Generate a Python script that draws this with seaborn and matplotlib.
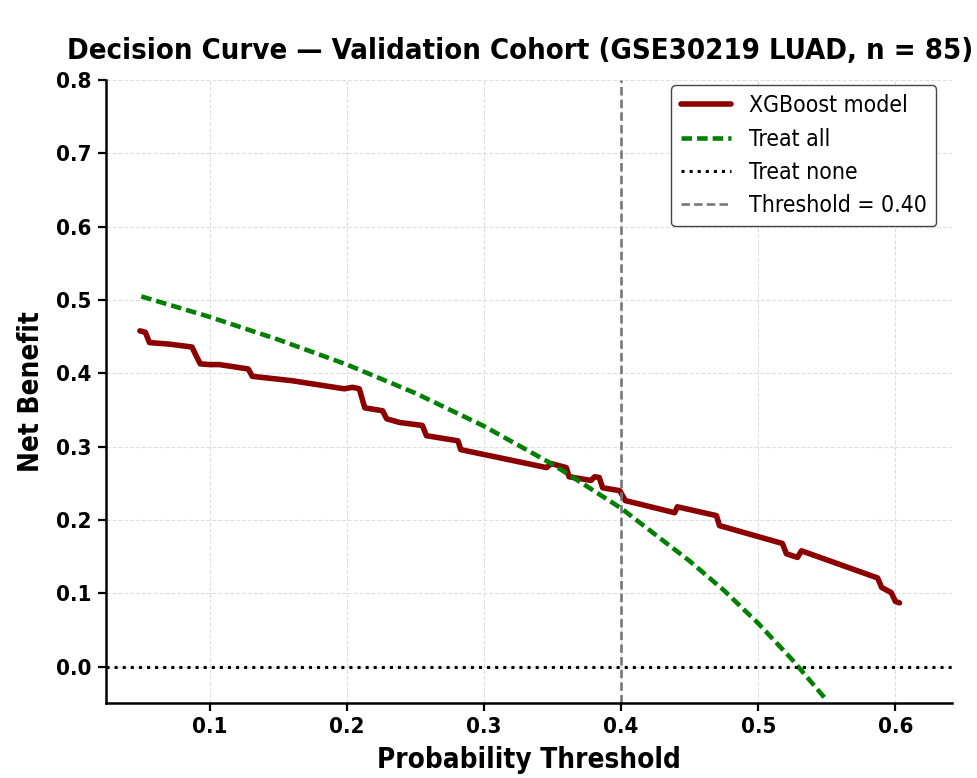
import matplotlib
matplotlib.use("Agg")
import matplotlib.pyplot as plt
from matplotlib import font_manager
import seaborn as sns
import pandas as pd

# XGBoost model net benefit
model_thr = [0.049, 0.053, 0.056, 0.070, 0.087, 0.089, 0.093, 0.100, 0.107, 0.128, 0.131,
             0.160, 0.198, 0.204, 0.209, 0.213, 0.226, 0.229, 0.2385, 0.255, 0.258, 0.281,
             0.283, 0.3456, 0.349, 0.360, 0.362, 0.378, 0.3806, 0.384, 0.3865, 0.399,
             0.403, 0.439, 0.441, 0.4695, 0.4717, 0.5176, 0.5205, 0.5286, 0.5315, 0.587,
             0.590, 0.597, 0.600, 0.603]
model_nb = [0.458, 0.456, 0.442, 0.440, 0.436, 0.428, 0.413, 0.412, 0.412, 0.406, 0.396,
            0.390, 0.379, 0.381, 0.379, 0.353, 0.349, 0.338, 0.333, 0.329, 0.315, 0.308,
            0.296, 0.2715, 0.277, 0.2715, 0.259, 0.254, 0.259, 0.258, 0.244, 0.240,
            0.2265, 0.210, 0.218, 0.206, 0.1924, 0.168, 0.154, 0.149, 0.158, 0.121,
            0.108, 0.101, 0.089, 0.087]

# Treat-all net benefit
all_thr = [0.05, 0.10, 0.15, 0.20, 0.25, 0.30, 0.35, 0.40, 0.45, 0.475, 0.50, 0.525, 0.55]
all_nb = [0.505, 0.477, 0.446, 0.412, 0.373, 0.328, 0.276, 0.216, 0.144, 0.104, 0.059, 0.009, -0.046]

threshold = 0.40
title = "Decision Curve \u2014 Validation Cohort (GSE30219 LUAD, n = 85)"

sns.set_theme(style="whitegrid")

cond = [f for f in font_manager.fontManager.ttflist
        if f.name == "DejaVu Sans" and f.stretch not in ("normal", 500)]
plt.rcParams["font.family"] = ["DejaVu Sans"]
if cond:
    plt.rcParams["font.stretch"] = "condensed"
plt.rcParams.update({
    "text.color": "black",
    "axes.labelcolor": "black",
    "xtick.color": "black",
    "ytick.color": "black",
})

fig = plt.figure(figsize=(9.78, 7.78), dpi=100)
ax = fig.add_axes([0.108, 0.096, 0.865, 0.801])

model_df = pd.DataFrame({"thr": model_thr, "nb": model_nb})
all_df = pd.DataFrame({"thr": all_thr, "nb": all_nb})

sns.lineplot(data=model_df, x="thr", y="nb", ax=ax, color="#8B0000", lw=4,
             label="XGBoost model", sort=False)
sns.lineplot(data=all_df, x="thr", y="nb", ax=ax, color="#008000", lw=3.3,
             linestyle=(0, (2.3, 1.1)), label="Treat all")
ax.axhline(0, color="black", lw=2.2, linestyle=":", label="Treat none")
ax.axvline(threshold, color="#777777", lw=1.9, linestyle=(0, (3.2, 1.6)),
           label=f"Threshold = {threshold:.2f}")

ax.set_xlim(0.024, 0.641)
ax.set_ylim(-0.05, 0.8)
ax.set_xticks([0.1, 0.2, 0.3, 0.4, 0.5, 0.6])
ax.set_yticks([0.0, 0.1, 0.2, 0.3, 0.4, 0.5, 0.6, 0.7, 0.8])
ax.set_facecolor("white")
ax.grid(True, color="#d8d8d8", linestyle="--", lw=0.8, alpha=0.8)

for s in ["top", "right"]:
    ax.spines[s].set_visible(False)
for s in ["left", "bottom"]:
    ax.spines[s].set_color("black")
    ax.spines[s].set_linewidth(1.8)
ax.tick_params(axis="both", which="major", length=6, width=1.6, color="black",
               labelsize=16, left=True, bottom=True, pad=4)
for lab in ax.get_xticklabels() + ax.get_yticklabels():
    lab.set_fontweight("bold")

ax.set_xlabel("Probability Threshold", fontsize=20, fontweight="bold", labelpad=6)
ax.set_ylabel("Net Benefit", fontsize=20, fontweight="bold", labelpad=8)
ax.set_title(title, fontsize=21, fontweight="bold", pad=15, x=0.49)

leg = ax.legend(loc="upper right", fontsize=16.5, frameon=True, fancybox=True,
                edgecolor="#444444", framealpha=1, handlelength=2.2,
                borderaxespad=0, bbox_to_anchor=(0.982, 0.992),
                labelspacing=0.45)
leg.get_frame().set_linewidth(1.0)

fig.savefig("out.png", dpi=100, facecolor="white")
